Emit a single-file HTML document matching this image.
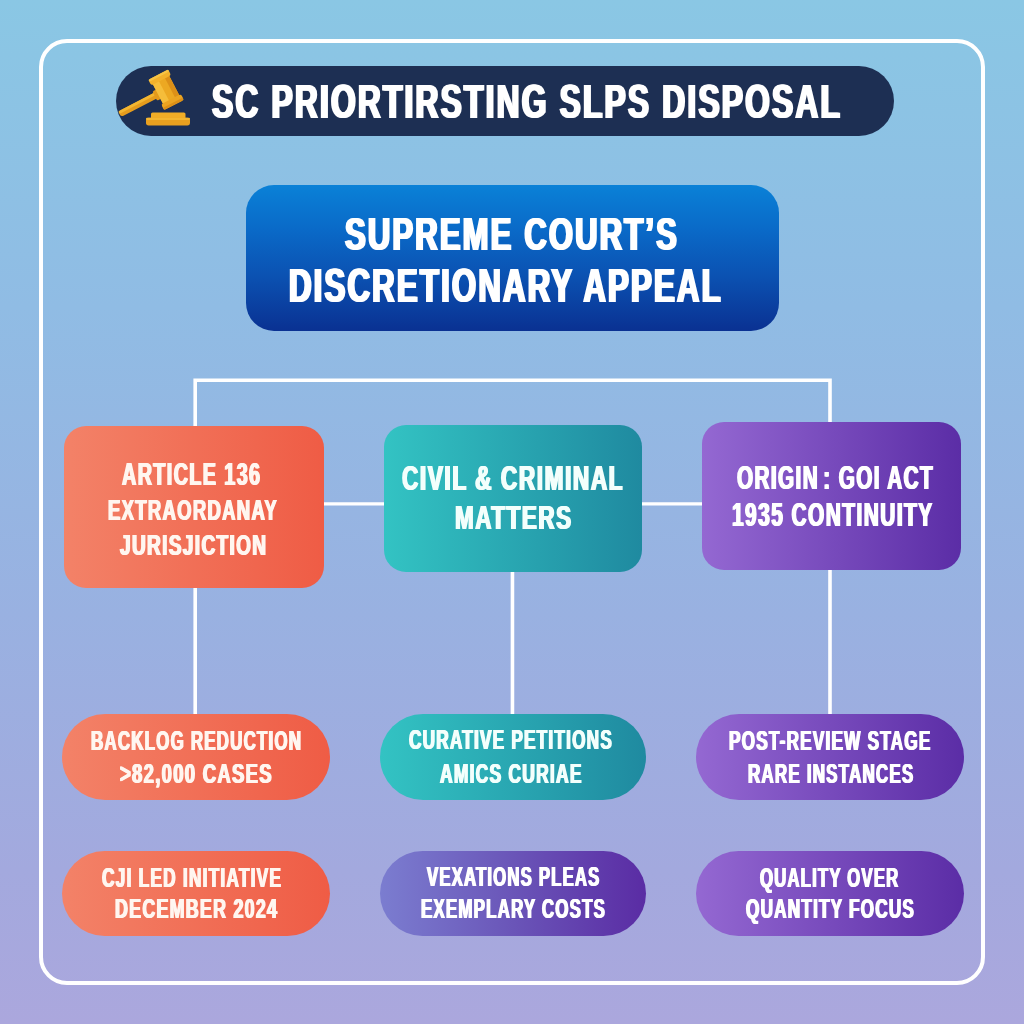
<!DOCTYPE html>
<html lang="en">
<head>
<meta charset="utf-8">
<title>SC Prioritising SLPs Disposal</title>
<style>
html,body{margin:0;padding:0}
body{width:1024px;height:1024px;position:relative;overflow:hidden;
 background:linear-gradient(180deg,#8ac7e4 0%,#90bce4 30%,#99b1e1 60%,#a3a9de 85%,#aba7dd 100%);
 font-family:"Liberation Sans",sans-serif;}
.abs{position:absolute}
.frame{left:39px;top:39px;width:938px;height:938px;border:4px solid #fff;border-radius:28px;box-sizing:content-box}
.title{left:116px;top:66px;width:778px;height:70px;border-radius:35px;background:#1d2f53}
.main{left:246px;top:185px;width:533px;height:146px;border-radius:28px;background:linear-gradient(180deg,#0a81d7 0%,#0a6ac8 30%,#0b52b2 62%,#0a3192 100%)}
.box{border-radius:22px}
.pill{border-radius:43px;height:85px}
.orange{background:linear-gradient(90deg,#f38268 0%,#ef5c45 100%)}
.teal{background:linear-gradient(90deg,#33c3c3 0%,#1f8aa0 100%)}
.purple{background:linear-gradient(90deg,#9468d2 0%,#5b2da6 100%)}
.indigo{background:linear-gradient(90deg,#7b7dd0 0%,#6a55b8 50%,#5a2ca4 100%)}
.ln{background:#fff}
.txt{left:0;top:0;width:1024px;height:1024px;will-change:transform}
.ns{letter-spacing:-.08em}
.t.o{color:#fff6f0}
.t.g{color:#f3fffc}
.t{position:absolute;white-space:nowrap;line-height:1;font-weight:bold;color:#fff;transform-origin:0 0;display:block}
</style>
</head>
<body>
<div class="abs frame"></div>

<!-- connectors -->
<svg class="abs" style="left:0;top:0" width="1024" height="1024" viewBox="0 0 1024 1024" fill="none" stroke="#fff" stroke-width="3.6">
 <path d="M195.2 716V380.25H830V716" stroke-linejoin="miter"/>
 <path d="M512.45 560V716"/>
 <path d="M320 503.9H710" stroke-width="3.3"/>
</svg>

<!-- title -->
<div class="abs title"></div>
<svg class="abs" style="left:110px;top:60px" width="90" height="80" viewBox="110 60 90 80">
 <g transform="translate(165.8 89.2) rotate(-27.4)">
  <rect x="-52.5" y="-2.2" width="45.5" height="6.4" rx="3.2" fill="#e59c1d"/>
  <rect x="-52.5" y="-2.2" width="45.5" height="2.8" rx="1.4" fill="#f3b631"/>
  <rect x="-13" y="-4.2" width="5.5" height="10.4" rx="1.6" fill="#e39a1c"/>
  <rect x="-9.2" y="-11" width="18.4" height="24" fill="#eca822"/>
  <rect x="-9.2" y="-11" width="6.8" height="24" fill="#f5bd3a"/>
  <rect x="4.4" y="-11" width="4.8" height="24" fill="#dc9018"/>
  <rect x="-11.2" y="-16.5" width="22.4" height="6.6" rx="2.3" fill="#f2b12b"/>
  <rect x="-11.2" y="-16.5" width="22.4" height="2.4" rx="1.2" fill="#f7c445"/>
  <rect x="-11.2" y="11.2" width="22.4" height="6.6" rx="2.3" fill="#eba421"/>
  <rect x="-11.2" y="15.2" width="22.4" height="2.6" rx="1.3" fill="#dc9018"/>
 </g>
 <rect x="151" y="112.4" width="34.5" height="6.4" rx="1.6" fill="#f0ad27"/>
 <rect x="146" y="117.8" width="44" height="7.6" rx="2.6" fill="#e9a01f"/>
 <rect x="146" y="117.8" width="44" height="2.2" rx="1.1" fill="#f3b631"/>
</svg>

<!-- main -->
<div class="abs main"></div>

<!-- row 1 -->
<div class="abs box orange" style="left:64px;top:426px;width:260px;height:162px"></div>
<div class="abs box teal" style="left:384px;top:425px;width:258px;height:147px"></div>
<div class="abs box purple" style="left:702px;top:422px;width:259px;height:148px"></div>

<!-- row 2 -->
<div class="abs pill orange" style="left:61.5px;top:714px;width:268.5px;height:86px"></div>
<div class="abs pill teal" style="left:379.5px;top:714px;width:266px;height:86px"></div>
<div class="abs pill purple" style="left:695.5px;top:714px;width:268.5px;height:86px"></div>

<!-- row 3 -->
<div class="abs pill orange" style="left:61.5px;top:851px;width:268.5px"></div>
<div class="abs pill indigo" style="left:379.5px;top:851px;width:266px"></div>
<div class="abs pill purple" style="left:695.5px;top:851px;width:268.5px"></div>

<div class="abs txt">
<span class="t" style="left:211.54px;top:78px;font-size:47.82px;letter-spacing:3.35px;transform:scaleX(0.6628);text-shadow:1.82px 0 0,-1.82px 0 0">SC PRIORTIRSTING SLPS DISPOSAL</span>
<span class="t" style="left:345.31px;top:211px;font-size:46.37px;letter-spacing:3.25px;transform:scaleX(0.6687);text-shadow:1.76px 0 0,-1.76px 0 0">SUPREME COURT’S</span>
<span class="t" style="left:289.23px;top:262px;font-size:47.67px;letter-spacing:3.34px;transform:scaleX(0.6539);text-shadow:1.81px 0 0,-1.81px 0 0">DISCRETIONARY APPEAL</span>
<span class="t o" style="left:122.34px;top:460px;font-size:30.81px;letter-spacing:2.16px;transform:scaleX(0.6420);text-shadow:1.17px 0 0,-1.17px 0 0">ARTICLE 136</span>
<span class="t o" style="left:108.48px;top:495px;font-size:30.23px;letter-spacing:2.12px;transform:scaleX(0.6120);text-shadow:1.15px 0 0,-1.15px 0 0">EXTRAORDANAY</span>
<span class="t o" style="left:120.12px;top:529px;font-size:30.38px;letter-spacing:2.13px;transform:scaleX(0.6276);text-shadow:1.15px 0 0,-1.15px 0 0">JURISJICTION</span>
<span class="t g" style="left:402.21px;top:460px;font-size:35.03px;letter-spacing:2.45px;transform:scaleX(0.6457);text-shadow:1.33px 0 0,-1.33px 0 0">CIVIL &amp; CRIMINAL</span>
<span class="t g" style="left:455.34px;top:500px;font-size:34.01px;letter-spacing:2.38px;transform:scaleX(0.6592);text-shadow:1.29px 0 0,-1.29px 0 0">MATTERS</span>
<span class="t" style="left:736.96px;top:461px;font-size:33.07px;letter-spacing:2.31px;transform:scaleX(0.6246);text-shadow:1.26px 0 0,-1.26px 0 0">ORIGIN<span class="ns"> </span>: GOI ACT</span>
<span class="t" style="left:731.54px;top:498px;font-size:33.14px;letter-spacing:2.32px;transform:scaleX(0.6301);text-shadow:1.26px 0 0,-1.26px 0 0">1935 CONTINUITY</span>
<span class="t o" style="left:91.02px;top:727px;font-size:27.33px;letter-spacing:1.91px;transform:scaleX(0.6199);text-shadow:1.04px 0 0,-1.04px 0 0">BACKLOG REDUCTION</span>
<span class="t o" style="left:120.42px;top:761px;font-size:27.03px;letter-spacing:1.89px;transform:scaleX(0.6837);text-shadow:1.03px 0 0,-1.03px 0 0">&gt;82,000 CASES</span>
<span class="t o" style="left:102.04px;top:863px;font-size:28.20px;letter-spacing:1.97px;transform:scaleX(0.6143);text-shadow:1.07px 0 0,-1.07px 0 0">CJI LED INITIATIVE</span>
<span class="t o" style="left:114.62px;top:895px;font-size:27.18px;letter-spacing:1.90px;transform:scaleX(0.6576);text-shadow:1.03px 0 0,-1.03px 0 0">DECEMBER 2024</span>
<span class="t g" style="left:408.62px;top:726px;font-size:27.33px;letter-spacing:1.91px;transform:scaleX(0.6300);text-shadow:1.04px 0 0,-1.04px 0 0">CURATIVE PETITIONS</span>
<span class="t g" style="left:440.26px;top:760px;font-size:27.25px;letter-spacing:1.91px;transform:scaleX(0.6407);text-shadow:1.04px 0 0,-1.04px 0 0">AMICS CURIAE</span>
<span class="t" style="left:426.64px;top:863px;font-size:27.25px;letter-spacing:1.91px;transform:scaleX(0.6139);text-shadow:1.04px 0 0,-1.04px 0 0">VEXATIONS PLEAS</span>
<span class="t" style="left:421.02px;top:895px;font-size:27.18px;letter-spacing:1.90px;transform:scaleX(0.6225);text-shadow:1.03px 0 0,-1.03px 0 0">EXEMPLARY COSTS</span>
<span class="t" style="left:728.64px;top:726px;font-size:28.20px;letter-spacing:1.97px;transform:scaleX(0.6098);text-shadow:1.07px 0 0,-1.07px 0 0">POST-REVIEW STAGE</span>
<span class="t" style="left:748.42px;top:760px;font-size:27.25px;letter-spacing:1.91px;transform:scaleX(0.6235);text-shadow:1.04px 0 0,-1.04px 0 0">RARE INSTANCES</span>
<span class="t" style="left:760.04px;top:863px;font-size:28.20px;letter-spacing:1.97px;transform:scaleX(0.5943);text-shadow:1.07px 0 0,-1.07px 0 0">QUALITY OVER</span>
<span class="t" style="left:746.02px;top:895px;font-size:27.18px;letter-spacing:1.90px;transform:scaleX(0.6318);text-shadow:1.03px 0 0,-1.03px 0 0">QUANTITY FOCUS</span>
</div>
</body>
</html>
